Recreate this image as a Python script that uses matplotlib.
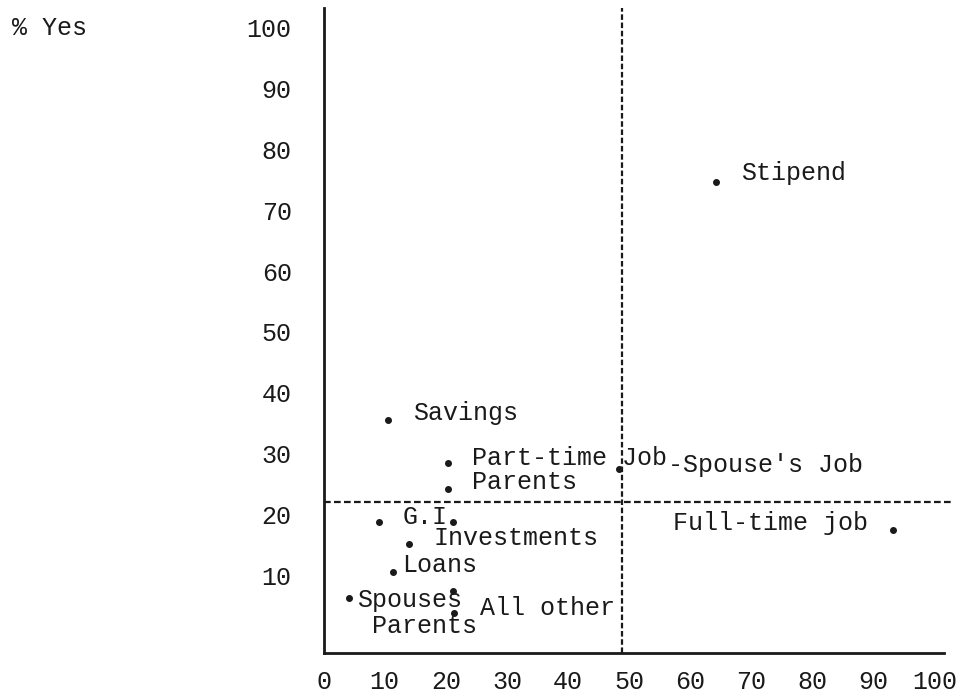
import matplotlib.pyplot as plt

plt.rcParams['font.family'] = ['Liberation Mono', 'DejaVu Sans Mono']

# sources of support, % Yes
names = ["Stipend", "Savings", "Part-time Job", "Parents", "-Spouse's Job",
         "G.I.", "", "Investments", "Loans", "Spouses\n Parents", "",
         "All other", "Full-time job"]
xs = [64.3, 10.5, 20.4, 20.3, 48.4, 9.1, 21.2, 14.0, 11.4, 4.2, 21.2, 21.3, 93.2]
ys = [74.7, 35.5, 28.5, 24.1, 27.4, 18.8, 18.8, 15.2, 10.5, 6.2, 7.4, 3.7, 17.5]
x_ticks = [0, 10, 20, 30, 40, 50, 60, 70, 80, 90, 100]
y_ticks = [10, 20, 30, 40, 50, 60, 70, 80, 90, 100]
x_cut = 48.9
y_cut = 22.1

# label offsets in pixels from each dot (ha, dx, dy)
offs = [("left", 25, 9), ("left", 25, 7), ("left", 24, 5), ("left", 24, 7),
        ("left", 49, 4), ("left", 23, 5), ("left", 0, 0), ("left", 24, 6),
        ("left", 9, 7), ("left", 8, -15), ("left", 0, 0), ("left", 26, 5),
        ("right", -25, 7)]

ink = "#1a1a1a"
fs = 18
fig = plt.figure(figsize=(9.66, 6.99), dpi=100)
ax = fig.add_axes([0.335, 0.0658, 0.6515, 0.923])
ax.set_xlim(0, 103)
ax.set_ylim(-2.8, 103.3)

for s in ["top", "right"]:
    ax.spines[s].set_visible(False)
ax.spines["left"].set_linewidth(2.0)
ax.spines["bottom"].set_linewidth(2.0)
ax.spines["left"].set_color(ink)
ax.spines["bottom"].set_color(ink)
ax.spines["bottom"].set_bounds(0, 101.5)

ax.plot([0, 103], [y_cut, y_cut], color=ink, lw=1.6, ls=(0, (3, 1.5)))
ax.plot([x_cut, x_cut], [-2.8, 103.3], color=ink, lw=1.6, ls=(0, (2.5, 1.2)))

ax.scatter(xs, ys, s=16, color=ink, zorder=3)
for n, x, y, (ha, dx, dy) in zip(names, xs, ys, offs):
    if n:
        ax.annotate(n, (x, y), xytext=(dx, dy), textcoords="offset pixels",
                    ha=ha, va="center", fontsize=fs, color=ink, linespacing=1.1)

ax.set_xticks(x_ticks)
ax.set_yticks(y_ticks)
ax.tick_params(length=0, labelsize=fs, colors=ink)
ax.tick_params(axis="x", pad=12)
ax.tick_params(axis="y", pad=23)

fig.text(0.012, 0.96, "% Yes", fontsize=fs, color=ink, ha="left", va="center")

fig.savefig("out.png", dpi=100)
